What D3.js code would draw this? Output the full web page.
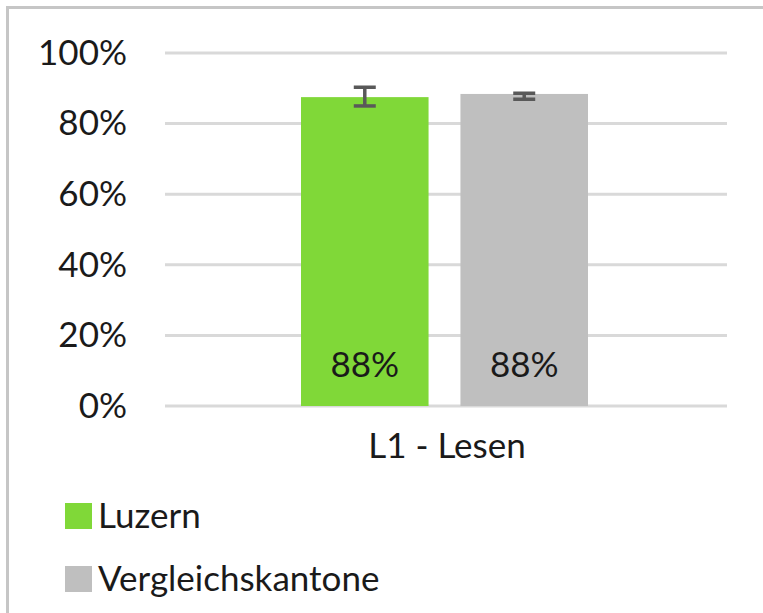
<!DOCTYPE html>
<html>
<head>
<meta charset="utf-8">
<script src="https://cdn.jsdelivr.net/npm/d3@7"></script>
<style>
  body { margin: 0; background: #fff; }
  svg { display: block; font-family: Lato, "Open Sans", sans-serif; }
</style>
</head>
<body>
<svg width="763" height="613"></svg>
<script>
let categories = ['L1 - Lesen']
let series = ['Luzern', 'Vergleichskantone']
let values = [87.5, 88.4]
let errLow = [85.0, 86.9]
let errHigh = [90.3, 88.6]
let labels = ['88%', '88%']
let colors = ['#80d838', '#bfbfbf']
let ticks = [0, 20, 40, 60, 80, 100]

let svg = d3.select('svg')

// chart frame (only top and left edges visible)
svg.append('line').attr('x1', 6).attr('x2', 763).attr('y1', 7.5).attr('y2', 7.5)
    .attr('stroke', '#c6c6c6').attr('stroke-width', 3)
svg.append('line').attr('x1', 7.5).attr('x2', 7.5).attr('y1', 6).attr('y2', 613)
    .attr('stroke', '#c6c6c6').attr('stroke-width', 3)

let y = d3.scaleLinear().domain([0, 100]).range([406, 53])
let x0 = d3.scaleBand().domain(categories).range([165, 727])
let x1 = d3.scaleBand().domain(series).range([301, 588]).paddingInner(0.2)

// gridlines
svg.append('g').selectAll('line')
    .data(ticks)
    .join('line')
    .attr('x1', 165).attr('x2', 727)
    .attr('y1', d => y(d)).attr('y2', d => y(d))
    .attr('stroke', '#d9d9d9').attr('stroke-width', 3)

// y axis labels
let yAxis = d3.axisLeft(y).tickValues(ticks).tickFormat(d => d + '%').tickSize(0).tickPadding(0)
let yg = svg.append('g').attr('transform', 'translate(127,0)').call(yAxis)
yg.select('.domain').remove()
yg.selectAll('text').attr('font-size', 35).attr('fill', '#1a1a1a').attr('font-family', 'Lato')

// bars
svg.append('g').selectAll('rect')
    .data(series)
    .join('rect')
    .attr('x', d => x1(d))
    .attr('width', x1.bandwidth())
    .attr('y', (d, i) => y(values[i]))
    .attr('height', (d, i) => y(0) - y(values[i]))
    .attr('fill', (d, i) => colors[i])

// error bars
let eb = svg.append('g').selectAll('g')
    .data(series)
    .join('g')
    .attr('stroke', '#595959').attr('stroke-width', 3.5)
let cx = d => x1(d) + x1.bandwidth() / 2
eb.append('line')
    .attr('x1', cx).attr('x2', cx)
    .attr('y1', (d, i) => y(errLow[i])).attr('y2', (d, i) => y(errHigh[i]))
eb.append('line')
    .attr('x1', d => cx(d) - 11).attr('x2', d => cx(d) + 11)
    .attr('y1', (d, i) => y(errLow[i])).attr('y2', (d, i) => y(errLow[i]))
eb.append('line')
    .attr('x1', d => cx(d) - 11).attr('x2', d => cx(d) + 11)
    .attr('y1', (d, i) => y(errHigh[i])).attr('y2', (d, i) => y(errHigh[i]))

// value labels
svg.append('g').selectAll('text')
    .data(series)
    .join('text')
    .attr('x', cx)
    .attr('y', 377)
    .attr('text-anchor', 'middle')
    .attr('font-size', 35)
    .attr('fill', '#1a1a1a')
    .text((d, i) => labels[i])

// category label
svg.append('g').selectAll('text')
    .data(categories)
    .join('text')
    .attr('x', d => x0(d) + x0.bandwidth() / 2 + 1)
    .attr('y', 458)
    .attr('text-anchor', 'middle')
    .attr('font-size', 35)
    .attr('fill', '#1a1a1a')
    .text(d => d)

// legend
let lg = svg.append('g').selectAll('g')
    .data(series)
    .join('g')
    .attr('transform', (d, i) => `translate(65,${503 + i * 63})`)
lg.append('rect').attr('width', 27).attr('height', 26).attr('fill', (d, i) => colors[i])
lg.append('text').attr('x', 33).attr('y', 25).attr('font-size', 35).attr('fill', '#1a1a1a').text(d => d)
</script>
</body>
</html>
